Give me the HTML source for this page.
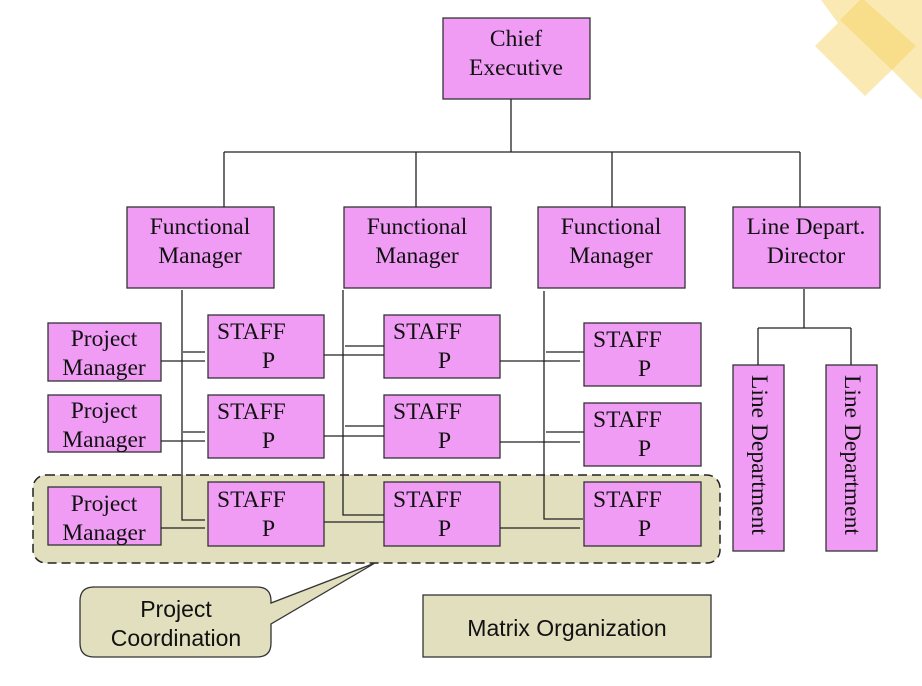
<!DOCTYPE html>
<html><head><style>body{margin:0;background:#fff}svg{display:block}</style></head><body>
<svg width="922" height="686" viewBox="0 0 922 686" xmlns="http://www.w3.org/2000/svg">
<polygon points="815,46 838,23 821,0 922,0 922,100 892,70 865,96" fill="#fbe9b4"/>
<polygon points="840,20 862,-2 916,46 892,70" fill="#f8dd8a"/>
<rect x="33" y="475" width="687" height="88" rx="13" fill="#e2dfbf" stroke="#222" stroke-width="1.5" stroke-dasharray="9,5"/>
<g fill="#f09cf5" stroke="#333" stroke-width="1.3">
<rect x="443" y="18" width="147" height="81"/>
<rect x="127" y="207" width="147" height="81"/>
<rect x="344" y="207" width="147" height="81"/>
<rect x="538" y="207" width="147" height="81"/>
<rect x="733" y="207" width="147" height="81"/>
<rect x="48" y="323" width="113" height="58"/>
<rect x="48" y="395" width="113" height="57"/>
<rect x="48" y="487" width="113" height="58"/>
<rect x="208" y="315" width="116" height="63"/>
<rect x="208" y="395" width="116" height="63"/>
<rect x="208" y="482" width="116" height="64"/>
<rect x="384" y="315" width="116" height="63"/>
<rect x="384" y="395" width="116" height="63"/>
<rect x="384" y="482" width="116" height="64"/>
<rect x="584" y="323" width="117" height="63"/>
<rect x="584" y="403" width="117" height="63"/>
<rect x="584" y="482" width="117" height="64"/>
<rect x="733" y="365" width="51" height="186"/>
<rect x="826" y="365" width="51" height="186"/>
</g>
<g stroke="#222" stroke-width="1.3" fill="none">
<path d="M511 99V152M224 152H800M224 152V207M416 152V207M612 152V207M800 152V207"/>
<path d="M804 289V328M758 328H851M758 328V365M851 328V365"/>
<path d="M182 290V520H205M343 290V515H384M544 291V519H583"/>
<path d="M161 361H205M183 352H205M324 355H384M345 346H384M500 361H580M546 352H584"/>
<path d="M161 441H205M183 432H205M324 436H384M345 426H384M500 442H580M546 432H584"/>
<path d="M161 528H205M324 522H384M500 528H580"/>
</g>
<g font-family="Liberation Serif, serif" font-size="23.5" fill="#111" text-anchor="middle">
<text x="516" y="46">Chief</text><text x="516" y="75">Executive</text>
<text x="200" y="234">Functional</text><text x="200" y="263">Manager</text>
<text x="417" y="234">Functional</text><text x="417" y="263">Manager</text>
<text x="611" y="234">Functional</text><text x="611" y="263">Manager</text>
<text x="806" y="234">Line Depart.</text><text x="806" y="263">Director</text>
<text x="104" y="346">Project</text><text x="104" y="375">Manager</text>
<text x="104" y="418">Project</text><text x="104" y="447">Manager</text>
<text x="104" y="511">Project</text><text x="104" y="540">Manager</text>
</g>
<g font-family="Liberation Serif, serif" font-size="23.5" fill="#111">
<text x="217" y="339">STAFF</text><text x="262" y="368">P</text>
<text x="217" y="419">STAFF</text><text x="262" y="448">P</text>
<text x="217" y="507">STAFF</text><text x="262" y="536">P</text>
<text x="393" y="339">STAFF</text><text x="438" y="368">P</text>
<text x="393" y="419">STAFF</text><text x="438" y="448">P</text>
<text x="393" y="507">STAFF</text><text x="438" y="536">P</text>
<text x="593" y="347">STAFF</text><text x="638" y="376">P</text>
<text x="593" y="427">STAFF</text><text x="638" y="456">P</text>
<text x="593" y="507">STAFF</text><text x="638" y="536">P</text>
<text transform="translate(752,375) rotate(90)">Line Department</text>
<text transform="translate(845,375) rotate(90)">Line Department</text>
</g>
<path d="M92 587H257Q271 587 271 601V603L375 563L271 624V643Q271 657 257 657H94Q80 657 80 643V601Q80 587 94 587Z" fill="#e2dfbf" stroke="#333" stroke-width="1.3"/>
<rect x="423" y="595" width="288" height="62" fill="#e2dfbf" stroke="#333" stroke-width="1.3"/>
<g font-family="Liberation Sans, sans-serif" font-size="23" fill="#111" text-anchor="middle">
<text x="176" y="617">Project</text><text x="176" y="646">Coordination</text>
<text x="567" y="636">Matrix Organization</text>
</g>
</svg>
</body></html>
